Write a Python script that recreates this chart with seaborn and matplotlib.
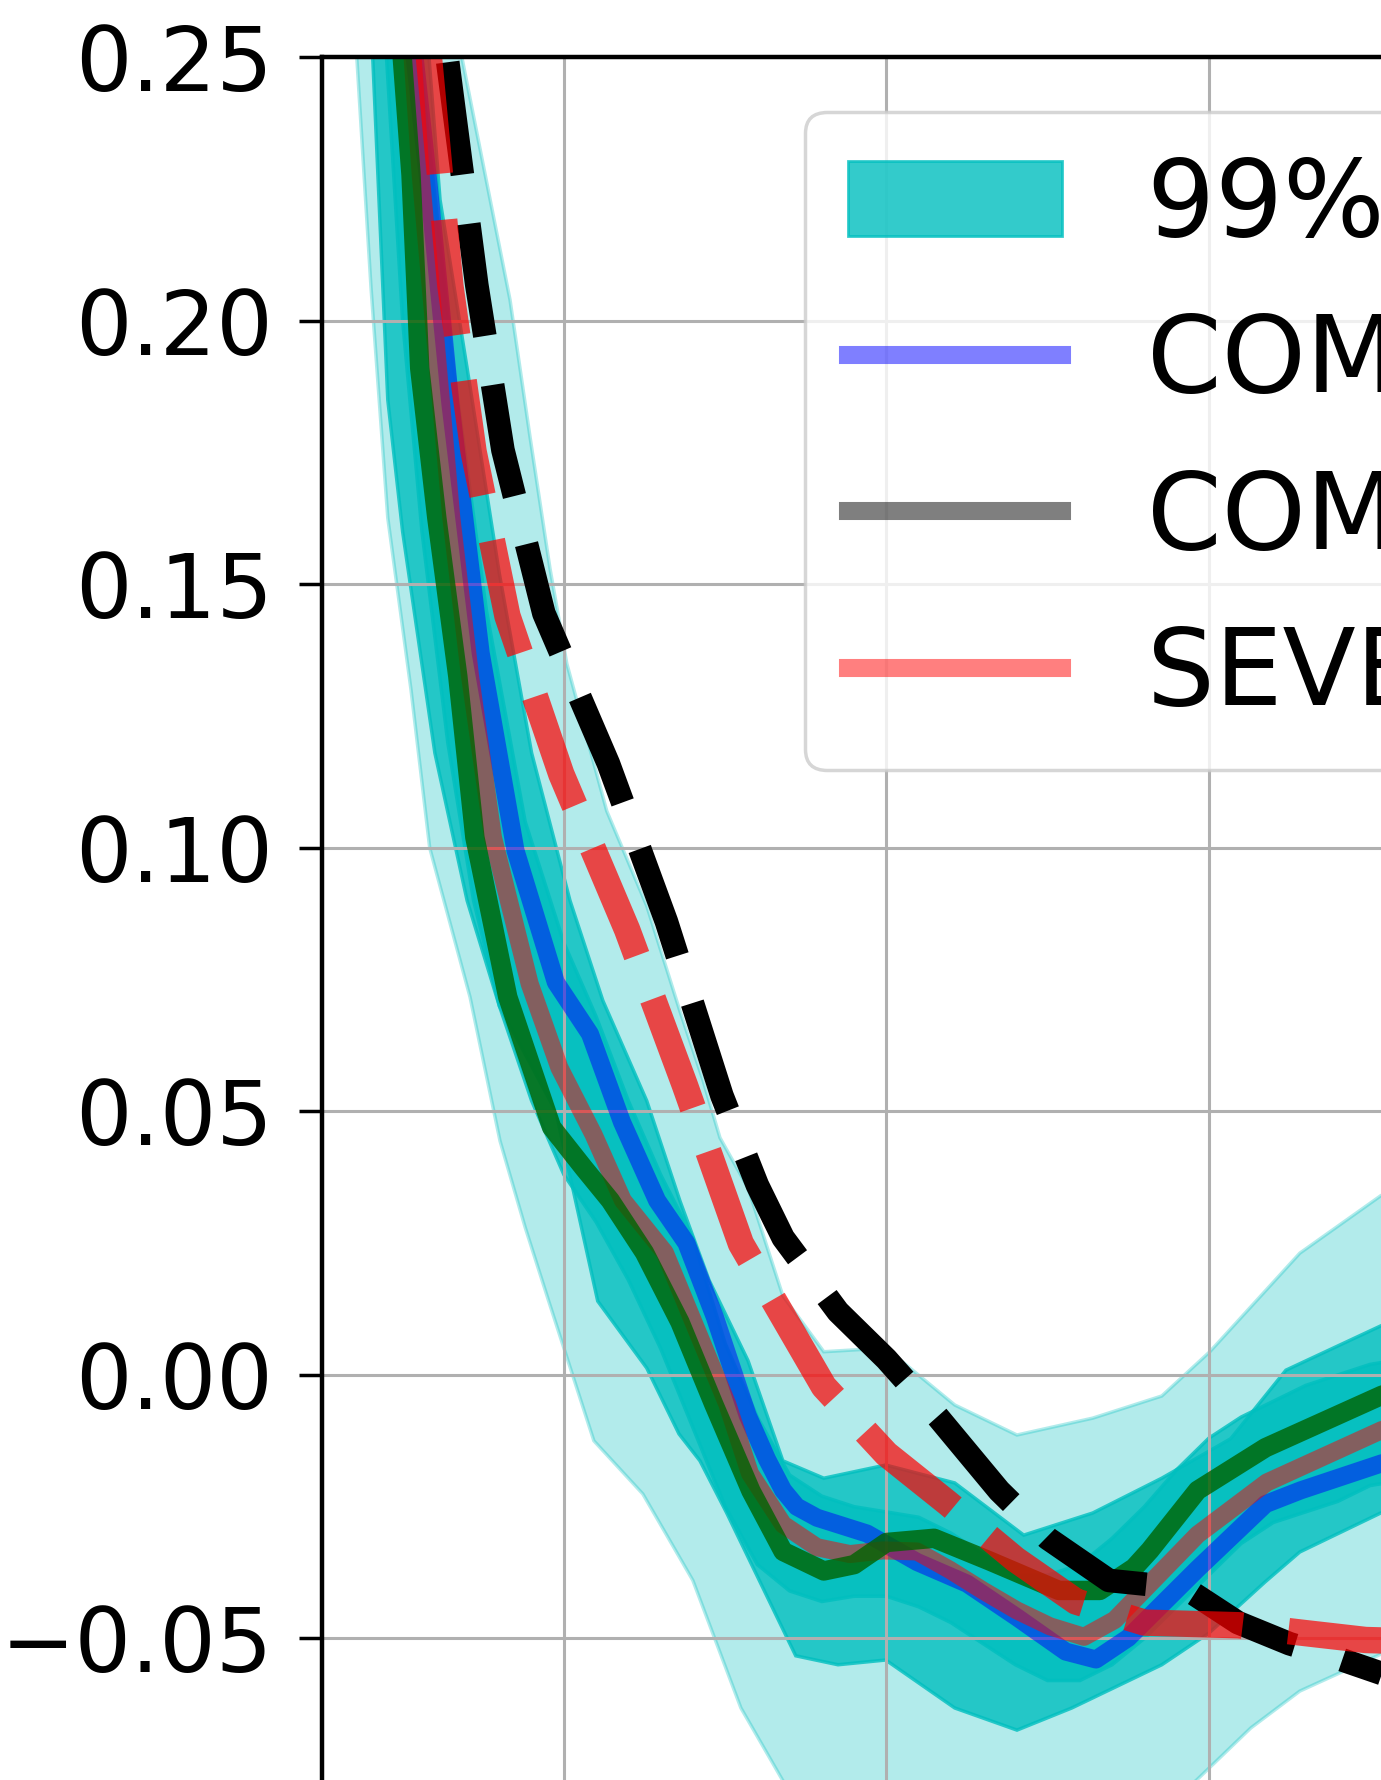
import matplotlib
matplotlib.use('Agg')
import matplotlib.pyplot as plt
import seaborn as sns
import numpy as np
from matplotlib.patches import Patch
from matplotlib.lines import Line2D

# 数据
# 外层浅色区间
outer_up_x = [0.60, 0.687, 0.833, 0.895, 0.957, 1.009, 1.133, 1.257, 1.360, 1.431, 1.484, 1.571, 1.679, 1.806,
              1.998, 2.212, 2.405, 2.640, 2.854, 3.003, 3.282, 3.533, 3.60]
outer_up_y = [0.276, 0.249, 0.204, 0.178, 0.153, 0.135, 0.107, 0.089, 0.069, 0.056, 0.045, 0.0355, 0.015, 0.0044,
              0.0051, -0.0057, -0.0114, -0.0082, -0.0040, 0.0044, 0.0231, 0.034, 0.036]
outer_lo_x = [0.33, 0.358, 0.402, 0.454, 0.526, 0.584, 0.709, 0.802, 0.88, 0.953, 1.093, 1.245, 1.40, 1.549,
              1.679, 1.90, 2.20, 2.50, 2.80, 2.960, 3.130, 3.282, 3.533, 3.60]
outer_lo_y = [0.28, 0.2499, 0.2063, 0.1626, 0.130, 0.100, 0.0717, 0.0444, 0.028, 0.014, -0.0125, -0.0226, -0.039,
              -0.0632, -0.077, -0.088, -0.095, -0.094, -0.084, -0.077, -0.0670, -0.060, -0.053, -0.051]

# 中层区间
mid_up_x = [0.55, 0.616, 0.70, 0.80, 0.90, 1.019, 1.121, 1.257, 1.360, 1.45, 1.571, 1.679, 1.806, 1.998, 2.212,
            2.426, 2.640, 2.854, 3.068, 3.239, 3.533, 3.60]
mid_up_y = [0.275, 0.223, 0.191, 0.152, 0.118, 0.090, 0.071, 0.052, 0.033, 0.018, 0.0027, -0.0163, -0.0196,
            -0.0171, -0.0205, -0.0304, -0.0262, -0.0196, -0.0121, 0.0009, 0.0093, 0.011]
mid_lo_x = [0.38, 0.408, 0.454, 0.50, 0.60, 0.70, 0.80, 0.975, 1.105, 1.257, 1.357, 1.422, 1.505, 1.719, 1.850,
            1.998, 2.212, 2.405, 2.575, 2.854, 3.0, 3.174, 3.282, 3.533, 3.60]
mid_lo_y = [0.28, 0.249, 0.185, 0.160, 0.118, 0.090, 0.070, 0.050, 0.014, 0.0013, -0.0112, -0.0163, -0.0262,
            -0.0533, -0.0550, -0.0541, -0.0632, -0.0674, -0.0632, -0.0550, -0.049, -0.0393, -0.0336, -0.0262, -0.025]

# 内层区间
in_up_x = [0.50, 0.58, 0.66, 0.76, 0.88, 1.0, 1.1, 1.2, 1.3, 1.4, 1.5, 1.6, 1.7, 1.8, 1.9, 2.0, 2.1, 2.2, 2.3,
           2.4, 2.5, 2.6, 2.7, 2.8, 2.9, 3.0, 3.1, 3.2, 3.3, 3.4, 3.5, 3.6]
in_up_y = [0.28, 0.235, 0.19, 0.145, 0.105, 0.082, 0.068, 0.052, 0.038, 0.026, 0.006, -0.008, -0.019, -0.023,
           -0.025, -0.026, -0.027, -0.030, -0.034, -0.038, -0.038, -0.036, -0.031, -0.025, -0.018, -0.012,
           -0.008, -0.005, -0.002, 0.000, 0.002, 0.003]
in_lo_x = [0.42, 0.46, 0.50, 0.56, 0.64, 0.72, 0.80, 0.90, 1.0, 1.1, 1.2, 1.3, 1.4, 1.5, 1.6, 1.7, 1.8, 1.9, 2.0,
           2.1, 2.2, 2.3, 2.4, 2.5, 2.6, 2.7, 2.8, 2.9, 3.0, 3.1, 3.2, 3.3, 3.4, 3.5, 3.6]
in_lo_y = [0.28, 0.24, 0.20, 0.16, 0.12, 0.09, 0.07, 0.052, 0.038, 0.029, 0.018, 0.005, -0.010, -0.025, -0.036,
           -0.041, -0.043, -0.042, -0.042, -0.044, -0.047, -0.051, -0.055, -0.058, -0.058, -0.055, -0.050,
           -0.044, -0.038, -0.032, -0.028, -0.026, -0.024, -0.021, -0.020]

# 曲线
blue_x = [0.46, 0.539, 0.581, 0.648, 0.742, 0.85, 0.975, 1.081, 1.180, 1.289, 1.380, 1.468, 1.570, 1.630, 1.680,
          1.722, 1.785, 1.940, 2.095, 2.250, 2.405, 2.556, 2.65, 2.750, 2.965, 3.176, 3.285, 3.535, 3.60]
blue_y = [0.295, 0.249, 0.2256, 0.1843, 0.137, 0.0995, 0.0745, 0.0647, 0.048, 0.0331, 0.025, 0.011, -0.0077,
          -0.0160, -0.0219, -0.0250, -0.0271, -0.0301, -0.0355, -0.0396, -0.0460, -0.0525, -0.0540, -0.0499,
          -0.0368, -0.0245, -0.0219, -0.0168, -0.0158]

brown_x = [0.47, 0.532, 0.556, 0.651, 0.709, 0.780, 0.894, 0.986, 1.092, 1.183, 1.313, 1.507, 1.577, 1.680, 1.785,
           1.887, 1.989, 2.095, 2.197, 2.299, 2.405, 2.507, 2.613, 2.708, 2.965, 3.180, 3.535, 3.60]
brown_y = [0.295, 0.249, 0.2277, 0.1626, 0.1326, 0.102, 0.0742, 0.0583, 0.0456, 0.0331, 0.0232, -0.0056, -0.0187,
           -0.0284, -0.0327, -0.0340, -0.0333, -0.0335, -0.0370, -0.0409, -0.0447, -0.0477, -0.0497, -0.0465,
           -0.0303, -0.0204, -0.0105, -0.0092]

green_x = [0.45, 0.500, 0.526, 0.553, 0.606, 0.671, 0.724, 0.826, 0.962, 1.060, 1.144, 1.250, 1.360, 1.465, 1.580,
           1.680, 1.806, 1.90, 2.000, 2.148, 2.320, 2.535, 2.662, 2.768, 2.817, 2.965, 3.176, 3.535, 3.60]
green_y = [0.292, 0.249, 0.2277, 0.191, 0.1626, 0.1326, 0.102, 0.0717, 0.047, 0.0394, 0.0331, 0.0232, 0.010,
           -0.0056, -0.022, -0.0335, -0.0372, -0.036, -0.0318, -0.0310, -0.0353, -0.0409, -0.0409, -0.0366,
           -0.0333, -0.0219, -0.0138, -0.0039, -0.0025]

black_x = [0.57, 0.662, 0.730, 0.811, 0.938, 1.138, 1.318, 1.490, 1.60, 1.680, 1.85, 2.00, 2.16, 2.35, 2.50, 2.69,
           2.85, 2.94, 3.09, 3.25, 3.41, 3.60]
black_y = [0.282, 0.2387, 0.2068, 0.1755, 0.1445, 0.116, 0.086, 0.053, 0.036, 0.026, 0.012, 0.003, -0.008, -0.022,
           -0.031, -0.039, -0.040, -0.041, -0.047, -0.051, -0.054, -0.058]

red_x = [0.52, 0.599, 0.648, 0.720, 0.825, 0.992, 1.196, 1.375, 1.549, 1.806, 2.000, 2.190, 2.40, 2.588, 2.80,
         3.092, 3.30, 3.486, 3.60]
red_y = [0.29, 0.2387, 0.2067, 0.1752, 0.1440, 0.1140, 0.0845, 0.055, 0.0249, -0.0022, -0.015, -0.0243, -0.035,
         -0.0430, -0.047, -0.0475, -0.049, -0.0503, -0.0505]

y_ticks = [-0.05, 0.00, 0.05, 0.10, 0.15, 0.20, 0.25]
x_ticks = [1, 2, 3]

legend_labels = ['99% CI', 'COMBINED', 'COMPOSITE', 'SEVERE']

# 画布（原图为裁剪后的局部）
fig = plt.figure(figsize=(13.81, 17.80), dpi=100)
ax = fig.add_axes([0.23317, -0.06849, 0.8757, 1.03624])


def band(xu, yu, xl, yl, alpha):
    xs = np.concatenate([xu, xl[::-1]])
    ys = np.concatenate([yu, yl[::-1]])
    ax.fill(xs, ys, facecolor='c', edgecolor='c', alpha=alpha, linewidth=2.5, zorder=1)


band(outer_up_x, outer_up_y, outer_lo_x, outer_lo_y, 0.3)
band(mid_up_x, mid_up_y, mid_lo_x, mid_lo_y, 0.8)
band(in_up_x, in_up_y, in_lo_x, in_lo_y, 0.8)

sns.lineplot(x=blue_x, y=blue_y, ax=ax, color='blue', alpha=0.5, lw=13, sort=False, estimator=None)
sns.lineplot(x=brown_x, y=brown_y, ax=ax, color='red', alpha=0.5, lw=13, sort=False, estimator=None)
sns.lineplot(x=green_x, y=green_y, ax=ax, color='darkgreen', alpha=0.8, lw=14, sort=False, estimator=None)
sns.lineplot(x=black_x, y=black_y, ax=ax, color='black', lw=17, linestyle=(4.2, (4.8, 2.1)),
             sort=False, estimator=None)
sns.lineplot(x=red_x, y=red_y, ax=ax, color='red', alpha=0.7, lw=19, linestyle=(3.9, (4.4, 1.75)),
             sort=False, estimator=None)

ax.set_xlim(0.25, 4.0)
ax.set_ylim(-0.10, 0.25)
ax.set_xticks(x_ticks)
ax.set_yticks(y_ticks)
ax.grid(True, color='#b0b0b0', linewidth=2.2)
ax.tick_params(axis='y', labelsize=64, length=16.5, width=2.5, pad=19)
ax.tick_params(axis='x', length=16.5, width=2.5, labelbottom=False)
for sp in ax.spines.values():
    sp.set_linewidth(3.2)
    sp.set_color('black')
ax.set_xlabel('')
ax.set_ylabel('')

handles = [
    Patch(facecolor='c', edgecolor='c', alpha=0.8, linewidth=2),
    Line2D([], [], color='blue', alpha=0.5, lw=13),
    Line2D([], [], color='black', alpha=0.5, lw=13),
    Line2D([], [], color='red', alpha=0.5, lw=13),
]
leg = ax.legend(handles, legend_labels, loc='upper left', bbox_to_anchor=(0.5830, 0.9371),
                bbox_transform=fig.transFigure, borderaxespad=0, fontsize=77, framealpha=0.8)
leg.get_frame().set_linewidth(2.5)

fig.savefig('out.png', dpi=100)
